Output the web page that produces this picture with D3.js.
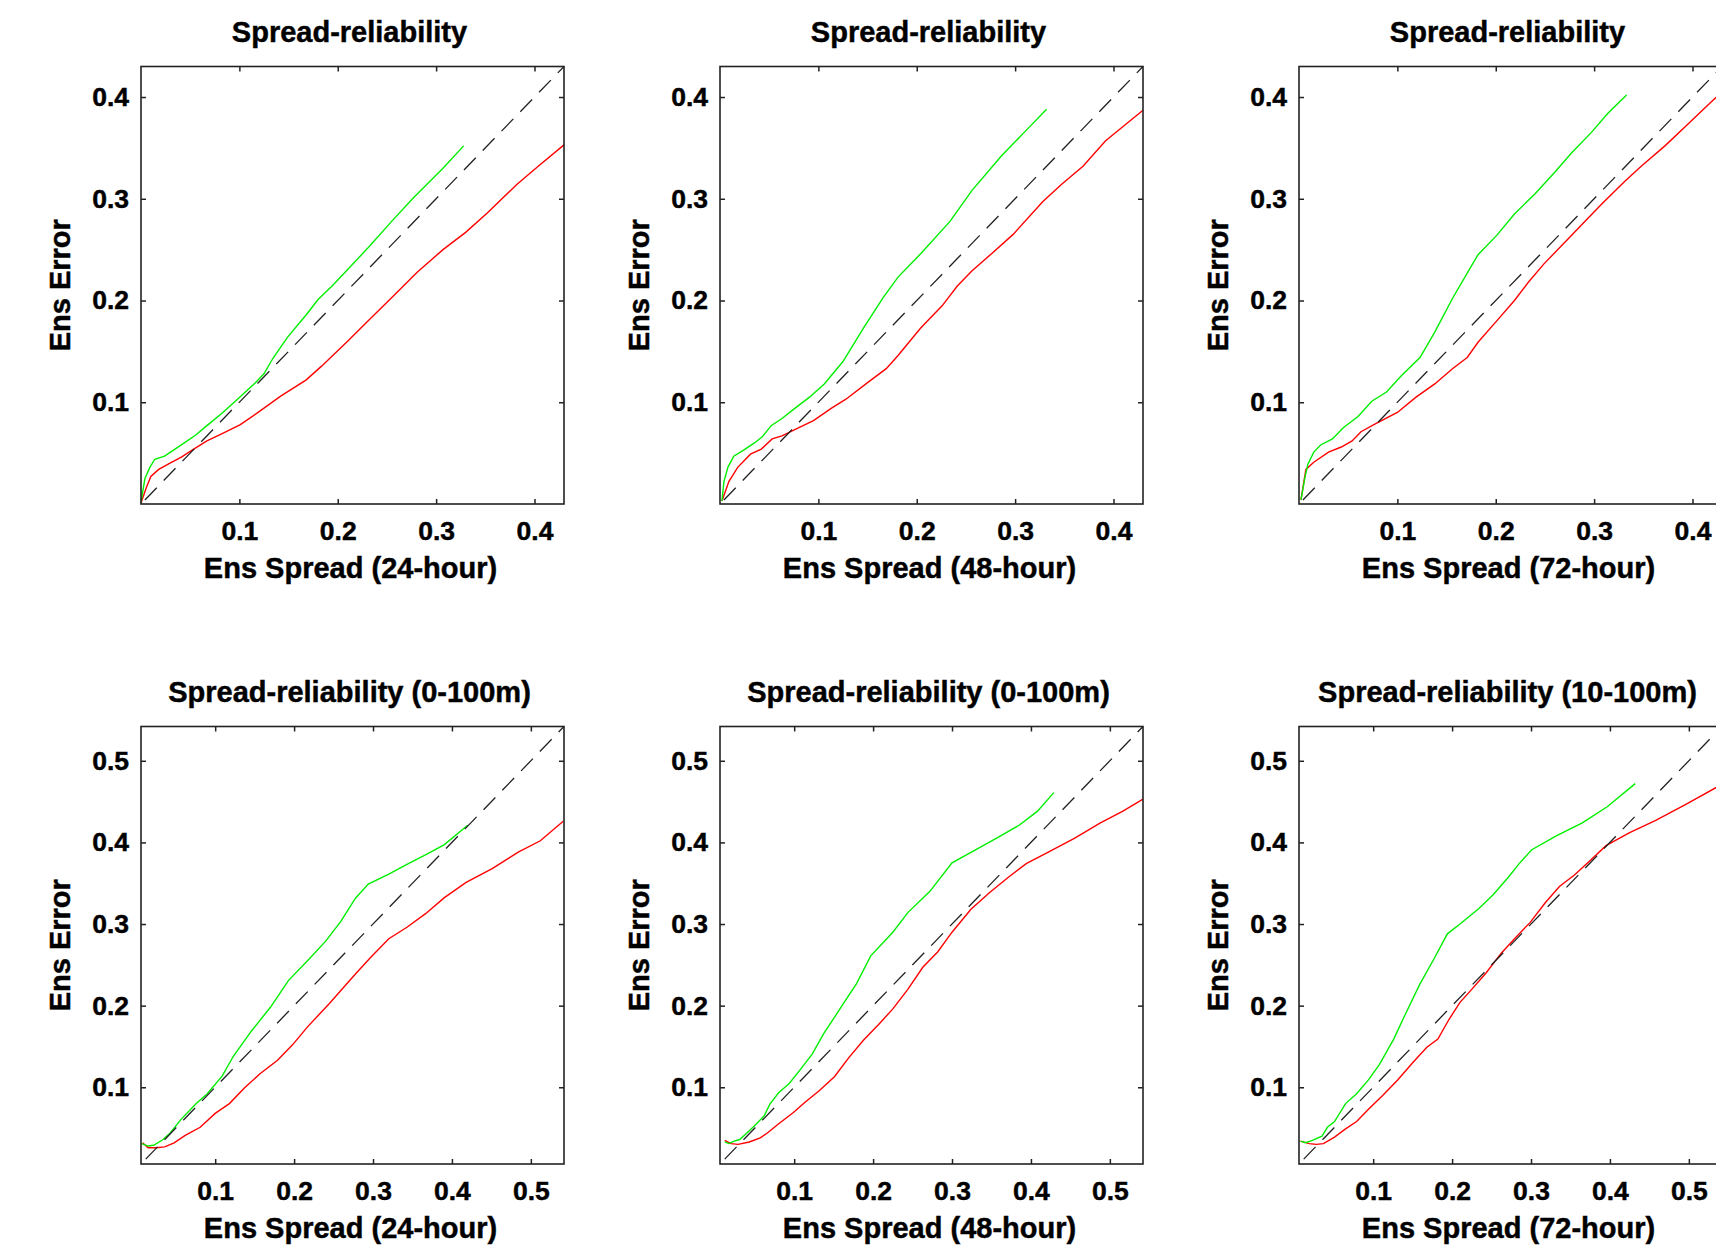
<!DOCTYPE html>
<html><head><meta charset="utf-8">
<script src="https://cdn.jsdelivr.net/npm/d3@7"></script>
<style>
body{margin:0;background:#fff;}
svg{display:block;background:#fff;}
text{font-family:"Liberation Sans",Arial,Helvetica,sans-serif;font-weight:bold;fill:#000;stroke:#000;stroke-width:0.45px;}
</style></head>
<body><svg id="chart" width="1716" height="1252"></svg>
<script>
// ---------- data ----------
const titles = ["Spread-reliability","Spread-reliability","Spread-reliability",
  "Spread-reliability (0-100m)","Spread-reliability (0-100m)","Spread-reliability (10-100m)"];
const xLabels = ["Ens Spread (24-hour)","Ens Spread (48-hour)","Ens Spread (72-hour)",
  "Ens Spread (24-hour)","Ens Spread (48-hour)","Ens Spread (72-hour)"];
const yLabel = "Ens Error";
const ticksTop = [0.1,0.2,0.3,0.4];
const ticksBottom = [0.1,0.2,0.3,0.4,0.5];
const domainTop = [0, 0.43];
const domainBottom = [0.006, 0.542];
const diagTop = [[0.004,0.004],[0.43,0.43]];
const diagBottom = [[0.012,0.012],[0.542,0.542]];

const p1Green = [[0.000,0.002],[0.004,0.025],[0.009,0.036],[0.014,0.044],[0.024,0.047],[0.033,0.053],[0.044,0.060],[0.056,0.068],[0.067,0.077],[0.082,0.089],[0.097,0.102],[0.116,0.119],[0.125,0.128],[0.134,0.143],[0.149,0.164],[0.168,0.186],[0.180,0.201],[0.195,0.215],[0.232,0.253],[0.255,0.278],[0.277,0.301],[0.307,0.330],[0.328,0.352]];
const p1Red = [[0.000,0.001],[0.005,0.015],[0.010,0.027],[0.018,0.034],[0.029,0.040],[0.041,0.046],[0.052,0.053],[0.067,0.062],[0.082,0.069],[0.101,0.078],[0.119,0.090],[0.142,0.106],[0.168,0.122],[0.183,0.135],[0.210,0.160],[0.232,0.181],[0.255,0.203],[0.281,0.228],[0.307,0.250],[0.330,0.267],[0.352,0.286],[0.382,0.314],[0.405,0.333],[0.430,0.353]];
const p2Green = [[0.002,0.003],[0.004,0.022],[0.008,0.036],[0.014,0.047],[0.024,0.053],[0.035,0.060],[0.043,0.066],[0.052,0.077],[0.063,0.084],[0.076,0.094],[0.091,0.105],[0.106,0.118],[0.125,0.140],[0.146,0.173],[0.166,0.203],[0.181,0.223],[0.204,0.246],[0.234,0.278],[0.256,0.308],[0.286,0.342],[0.309,0.365],[0.332,0.388]];
const p2Red = [[0.002,0.003],[0.009,0.022],[0.018,0.036],[0.031,0.049],[0.042,0.054],[0.053,0.064],[0.063,0.067],[0.076,0.073],[0.095,0.082],[0.113,0.094],[0.128,0.103],[0.151,0.120],[0.169,0.133],[0.181,0.146],[0.204,0.173],[0.226,0.195],[0.241,0.214],[0.256,0.229],[0.276,0.246],[0.298,0.265],[0.328,0.297],[0.347,0.314],[0.369,0.332],[0.392,0.357],[0.430,0.387]];
const p3Green = [[0.002,0.004],[0.006,0.026],[0.009,0.039],[0.015,0.051],[0.022,0.058],[0.034,0.064],[0.045,0.075],[0.060,0.086],[0.074,0.101],[0.089,0.110],[0.104,0.126],[0.123,0.144],[0.138,0.169],[0.156,0.202],[0.171,0.227],[0.182,0.245],[0.201,0.264],[0.219,0.285],[0.240,0.305],[0.260,0.326],[0.277,0.345],[0.297,0.365],[0.314,0.384],[0.333,0.402]];
const p3Red = [[0.002,0.004],[0.007,0.034],[0.015,0.041],[0.030,0.051],[0.043,0.056],[0.054,0.062],[0.063,0.071],[0.078,0.079],[0.100,0.090],[0.119,0.105],[0.138,0.118],[0.156,0.133],[0.171,0.144],[0.182,0.159],[0.201,0.180],[0.219,0.200],[0.234,0.219],[0.249,0.236],[0.271,0.258],[0.294,0.281],[0.309,0.296],[0.331,0.317],[0.349,0.333],[0.372,0.352],[0.396,0.374],[0.420,0.396],[0.430,0.405]];
const p4Green = [[0.007,0.031],[0.015,0.028],[0.022,0.029],[0.034,0.036],[0.043,0.044],[0.057,0.061],[0.076,0.080],[0.090,0.092],[0.109,0.114],[0.123,0.138],[0.146,0.169],[0.170,0.198],[0.193,0.231],[0.217,0.255],[0.240,0.279],[0.259,0.303],[0.278,0.332],[0.294,0.349],[0.320,0.361],[0.343,0.373],[0.367,0.385],[0.390,0.397],[0.420,0.421]];
const p4Red = [[0.008,0.032],[0.015,0.026],[0.025,0.026],[0.036,0.027],[0.048,0.032],[0.062,0.041],[0.081,0.051],[0.100,0.068],[0.118,0.080],[0.137,0.099],[0.156,0.116],[0.179,0.133],[0.198,0.152],[0.217,0.174],[0.245,0.203],[0.278,0.239],[0.296,0.258],[0.320,0.282],[0.343,0.296],[0.367,0.313],[0.390,0.332],[0.418,0.351],[0.451,0.368],[0.484,0.388],[0.512,0.402],[0.541,0.426]];
const p5Green = [[0.012,0.033],[0.017,0.031],[0.024,0.034],[0.031,0.036],[0.041,0.045],[0.052,0.055],[0.062,0.065],[0.069,0.079],[0.080,0.093],[0.094,0.105],[0.108,0.122],[0.123,0.141],[0.137,0.165],[0.160,0.199],[0.179,0.227],[0.197,0.261],[0.225,0.290],[0.244,0.314],[0.272,0.340],[0.300,0.375],[0.328,0.390],[0.356,0.405],[0.385,0.421],[0.408,0.438],[0.429,0.461]];
const p5Red = [[0.012,0.035],[0.020,0.031],[0.029,0.030],[0.043,0.033],[0.057,0.038],[0.066,0.044],[0.080,0.055],[0.099,0.069],[0.113,0.081],[0.132,0.096],[0.151,0.113],[0.169,0.136],[0.188,0.158],[0.207,0.177],[0.225,0.196],[0.244,0.220],[0.263,0.247],[0.282,0.266],[0.300,0.290],[0.324,0.318],[0.347,0.338],[0.371,0.357],[0.394,0.374],[0.422,0.388],[0.455,0.405],[0.488,0.424],[0.516,0.438],[0.542,0.453]];
const p6Green = [[0.008,0.034],[0.014,0.032],[0.023,0.035],[0.035,0.040],[0.042,0.051],[0.051,0.058],[0.065,0.080],[0.079,0.092],[0.094,0.109],[0.108,0.128],[0.126,0.159],[0.140,0.188],[0.159,0.226],[0.178,0.259],[0.194,0.288],[0.210,0.300],[0.234,0.319],[0.252,0.336],[0.271,0.357],[0.285,0.374],[0.301,0.391],[0.332,0.408],[0.365,0.424],[0.397,0.444],[0.432,0.472]];
const p6Red = [[0.008,0.034],[0.019,0.031],[0.028,0.030],[0.037,0.031],[0.051,0.039],[0.065,0.049],[0.079,0.058],[0.094,0.073],[0.112,0.090],[0.131,0.109],[0.150,0.130],[0.168,0.149],[0.182,0.159],[0.196,0.183],[0.210,0.204],[0.224,0.219],[0.243,0.240],[0.262,0.264],[0.280,0.283],[0.299,0.302],[0.318,0.326],[0.336,0.346],[0.355,0.360],[0.374,0.377],[0.395,0.396],[0.425,0.412],[0.458,0.427],[0.495,0.446],[0.536,0.468],[0.542,0.470]];

const greens = [p1Green,p2Green,p3Green,p4Green,p5Green,p6Green];
const reds = [p1Red,p2Red,p3Red,p4Red,p5Red,p6Red];

// ---------- layout ----------
const colLefts = [141, 720, 1299];
const rowTops = [66.5, 726.5];
const W = 423, H = 437.5;

const svg = d3.select("#chart");

for (let i = 0; i < 6; i++) {
  const row = Math.floor(i / 3), col = i % 3;
  const top = row === 0;
  const domain = top ? domainTop : domainBottom;
  const ticks = top ? ticksTop : ticksBottom;
  const diag = top ? diagTop : diagBottom;
  const x = d3.scaleLinear().domain(domain).range([0, W]);
  const y = d3.scaleLinear().domain(domain).range([H, 0]);
  const g = svg.append("g").attr("transform", `translate(${colLefts[col]},${rowTops[row]})`);

  const fmt = d3.format(".1f");
  const styleAxis = sel => {
    sel.attr("font-size", null).attr("font-family", null);
    sel.select(".domain").remove();
    sel.selectAll(".tick line").attr("stroke", "#222").attr("stroke-width", 1.5);
    sel.selectAll(".tick text").style("font-size", "26.5px").attr("fill", "#000");
  };
  g.append("g").attr("transform", `translate(0,${H})`)
    .call(d3.axisBottom(x).tickValues(ticks).tickSize(-5).tickPadding(17.6).tickFormat(fmt)).call(styleAxis);
  g.append("g")
    .call(d3.axisLeft(y).tickValues(ticks).tickSize(-5).tickPadding(12).tickFormat(fmt)).call(styleAxis);
  g.append("g")
    .call(d3.axisTop(x).tickValues(ticks).tickSize(-5).tickFormat("")).call(styleAxis);
  g.append("g").attr("transform", `translate(${W},0)`)
    .call(d3.axisRight(y).tickValues(ticks).tickSize(-5).tickFormat("")).call(styleAxis);

  const line = d3.line().x(d => x(d[0])).y(d => y(d[1]));
  g.append("path").datum(reds[i]).attr("d", line)
    .attr("fill", "none").attr("stroke", "#ff0000").attr("stroke-width", 1.4);
  g.append("path").datum(greens[i]).attr("d", line)
    .attr("fill", "none").attr("stroke", "#00ee00").attr("stroke-width", 1.4);
  g.append("path").datum(diag).attr("d", line)
    .attr("fill", "none").attr("stroke", "#222").attr("stroke-width", 1.3)
    .attr("stroke-dasharray", "17,10");

  g.append("rect").attr("x", 0).attr("y", 0).attr("width", W).attr("height", H)
    .attr("fill", "none").attr("stroke", "#222").attr("stroke-width", 1.6);

  g.append("text").attr("x", W / 2 - 3).attr("y", -24.8)
    .attr("text-anchor", "middle").style("font-size", "29px").text(titles[i]);
  g.append("text").attr("x", W / 2 - 2).attr("y", H + 73.7)
    .attr("text-anchor", "middle").style("font-size", "29px").text(xLabels[i]);
  g.append("text").attr("transform", `translate(-70.6,${H / 2}) rotate(-90)`)
    .attr("text-anchor", "middle").style("font-size", "29px").text(yLabel);
}
</script>
</body></html>
